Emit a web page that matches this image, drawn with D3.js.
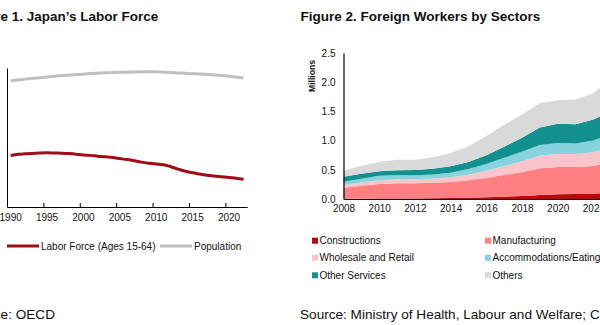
<!DOCTYPE html>
<html>
<head>
<meta charset="utf-8">
<script src="https://cdn.jsdelivr.net/npm/d3@7"></script>
<style>
  html, body { margin: 0; padding: 0; background: #fff; }
  svg { display: block; font-family: Arial, "Liberation Sans", sans-serif; }
</style>
</head>
<body>
<svg id="chart" width="600" height="325"></svg>
<script>
// ---------- Figure 1 data (millions) ----------
const years1 = d3.range(1990, 2023);
const laborForce = [85.9, 86.6, 86.8, 87.0, 87.2, 87.3, 87.2, 87.1, 86.9, 86.6,
                    86.2, 86.0, 85.6, 85.3, 84.9, 84.4, 83.9, 83.3, 82.6, 82.0,
                    81.6, 81.3, 80.3, 79.1, 78.0, 77.2, 76.6, 76.0, 75.6, 75.2,
                    74.8, 74.5, 74.0];
const population = [123.6, 124.0, 124.4, 124.8, 125.1, 125.5, 125.9, 126.2, 126.5, 126.7,
                    126.9, 127.2, 127.4, 127.6, 127.7, 127.8, 127.9, 128.0, 128.1, 128.1,
                    128.1, 127.9, 127.7, 127.5, 127.3, 127.1, 127.0, 126.8, 126.5, 126.2,
                    125.9, 125.5, 124.9];
const xTicks1 = [1990, 1995, 2000, 2005, 2010, 2015, 2020];

// ---------- Figure 2 data (millions) ----------
const years2 = d3.range(2008, 2024);
const sectors = ["Constructions", "Manufacturing", "Wholesale and Retail",
                 "Accommodations/Eating", "Other Services", "Others"];
const constructions = [0.005, 0.006, 0.007, 0.008, 0.009, 0.012, 0.016, 0.022, 0.030, 0.040, 0.052, 0.068, 0.080, 0.084, 0.092, 0.110];
const manufacturing = [0.188, 0.220, 0.250, 0.260, 0.260, 0.265, 0.275, 0.300, 0.330, 0.370, 0.410, 0.460, 0.470, 0.465, 0.475, 0.530];
const wholesale     = [0.047, 0.055, 0.065, 0.068, 0.068, 0.072, 0.080, 0.095, 0.125, 0.155, 0.185, 0.215, 0.220, 0.220, 0.235, 0.260];
const accommodation = [0.056, 0.065, 0.074, 0.072, 0.069, 0.072, 0.080, 0.095, 0.115, 0.140, 0.160, 0.180, 0.190, 0.180, 0.200, 0.220];
const otherServices = [0.084, 0.085, 0.080, 0.085, 0.091, 0.095, 0.110, 0.120, 0.150, 0.190, 0.240, 0.300, 0.330, 0.330, 0.360, 0.380];
const others        = [0.106, 0.132, 0.160, 0.180, 0.175, 0.200, 0.225, 0.270, 0.330, 0.375, 0.400, 0.417, 0.400, 0.420, 0.450, 0.550];
const yTicks2 = [0, 0.5, 1.0, 1.5, 2.0, 2.5];
const xTicks2 = [2008, 2010, 2012, 2014, 2016, 2018, 2020, 2022];

const sectorColors = ["#B50A0A", "#FF7F82", "#F9C5CA", "#86D3DF", "#12908F", "#D9D9D9"];

const svg = d3.select("#chart");
svg.append("rect").attr("width", 600).attr("height", 325).attr("fill", "#fff");

const textColor = "#111";

// ================= Figure 1 =================
const g1 = svg.append("g");
g1.append("text").attr("x", 158.3).attr("y", 21).attr("text-anchor", "end")
  .attr("font-size", 13.5).attr("font-weight", "bold").attr("fill", textColor)
  .text("Figure 1. Japan\u2019s Labor Force");

const xBand1 = d3.scaleBand().domain(years1).range([7, 247.2]);
const xEdge1 = d3.scaleLinear().domain([1990, 2023]).range([7, 247.2]);
const y1 = d3.scaleLinear().domain([60, 130]).range([207, 68]);
const cx1 = yr => xBand1(yr) + xBand1.bandwidth() / 2;

// axes
const xAxisTicks = g1.append("g").attr("transform", "translate(0,207)")
  .call(d3.axisBottom(xEdge1).tickValues(xTicks1).tickSizeInner(-4).tickSizeOuter(0).tickFormat(""));
xAxisTicks.select(".domain").attr("stroke", "#000");
xAxisTicks.selectAll(".tick line").attr("stroke", "#000");
const xAxisLabels = g1.append("g").attr("transform", "translate(0,207)")
  .call(d3.axisBottom(xBand1).tickValues(xTicks1).tickSize(0).tickPadding(7));
xAxisLabels.select(".domain").remove();
xAxisLabels.selectAll("text").attr("font-size", 10).attr("font-family", "Arial, 'Liberation Sans', sans-serif").attr("fill", textColor);

const yAxis1 = g1.append("g").attr("transform", "translate(7,0)")
  .call(d3.axisLeft(y1).tickValues([]).tickSizeOuter(0));
yAxis1.select(".domain").attr("stroke", "#000");

const line1 = d3.line().x((d, i) => cx1(years1[i])).y(d => y1(d)).curve(d3.curveMonotoneX);
g1.append("path").datum(population).attr("d", line1)
  .attr("fill", "none").attr("stroke", "#BFBFBF").attr("stroke-width", 3);
g1.append("path").datum(laborForce).attr("d", line1)
  .attr("fill", "none").attr("stroke", "#A00D14").attr("stroke-width", 3);

// legend
const leg1 = [{ name: "Labor Force (Ages 15-64)", color: "#A00D14", x: 7 },
              { name: "Population", color: "#BFBFBF", x: 160 }];
leg1.forEach(l => {
  g1.append("line").attr("x1", l.x).attr("x2", l.x + 32).attr("y1", 246).attr("y2", 246)
    .attr("stroke", l.color).attr("stroke-width", 3);
  g1.append("text").attr("x", l.x + 34).attr("y", 249.5).attr("font-size", 10)
    .attr("fill", textColor).text(l.name);
});

g1.append("text").attr("x", 55).attr("y", 319).attr("text-anchor", "end")
  .attr("font-size", 13.6).attr("fill", textColor).text("Source: OECD");

// ================= Figure 2 =================
const g2 = svg.append("g");
g2.append("text").attr("x", 300.5).attr("y", 21)
  .attr("font-size", 13.5).attr("font-weight", "bold").attr("fill", textColor)
  .text("Figure 2. Foreign Workers by Sectors");

const x2 = d3.scaleLinear().domain([2008, 2023]).range([343.5, 343.5 + 15 * 17.85]);
const y2 = d3.scaleLinear().domain([0, 2.5]).range([199, 53]);

const seriesArrays = [constructions, manufacturing, wholesale, accommodation, otherServices, others];
const table = years2.map((yr, i) => {
  const row = { year: yr };
  sectors.forEach((s, k) => row[s] = seriesArrays[k][i]);
  return row;
});
const stacked = d3.stack().keys(sectors)(table);
const area2 = d3.area().x(d => x2(d.data.year)).y0(d => y2(d[0])).y1(d => y2(d[1]));
g2.selectAll("path.area").data(stacked).join("path")
  .attr("class", "area").attr("d", area2).attr("fill", (d, i) => sectorColors[i]);

const xAxis2 = g2.append("g").attr("transform", "translate(0,199)")
  .call(d3.axisBottom(x2).tickValues(xTicks2).tickFormat(d3.format("d")).tickSize(0).tickPadding(6));
xAxis2.select(".domain").attr("stroke", "#000").attr("stroke-width", 1.2);
xAxis2.selectAll("text").attr("font-size", 10).attr("font-family", "Arial, 'Liberation Sans', sans-serif").attr("fill", textColor);

const yAxis2 = g2.append("g").attr("transform", "translate(343.5,0)")
  .call(d3.axisLeft(y2).tickValues(yTicks2).tickFormat(d3.format(".1f")).tickSize(0).tickPadding(8));
yAxis2.select(".domain").attr("stroke", "#000").attr("stroke-width", 1.2);
yAxis2.selectAll("text").attr("font-size", 10).attr("font-family", "Arial, 'Liberation Sans', sans-serif").attr("fill", textColor);

g2.append("text").attr("transform", "translate(314.5,76) rotate(-90)")
  .attr("text-anchor", "middle").attr("font-size", 8.6).attr("font-weight", "bold")
  .attr("fill", textColor).text("Millions");

// legend
const legPos = [[312, 240.7], [485, 240.7], [312, 257.7], [485, 257.7], [312, 275.3], [485, 275.3]];
sectors.forEach((s, i) => {
  const [lx, ly] = legPos[i];
  g2.append("rect").attr("x", lx).attr("y", ly - 3).attr("width", 6).attr("height", 6)
    .attr("fill", sectorColors[i]);
  g2.append("text").attr("x", lx + 7.5).attr("y", ly + 3.6).attr("font-size", 10)
    .attr("fill", textColor).text(s);
});

g2.append("text").attr("x", 300).attr("y", 318.5)
  .attr("font-size", 13.6).attr("fill", textColor)
  .text("Source: Ministry of Health, Labour and Welfare; CEIC");
</script>
</body>
</html>
